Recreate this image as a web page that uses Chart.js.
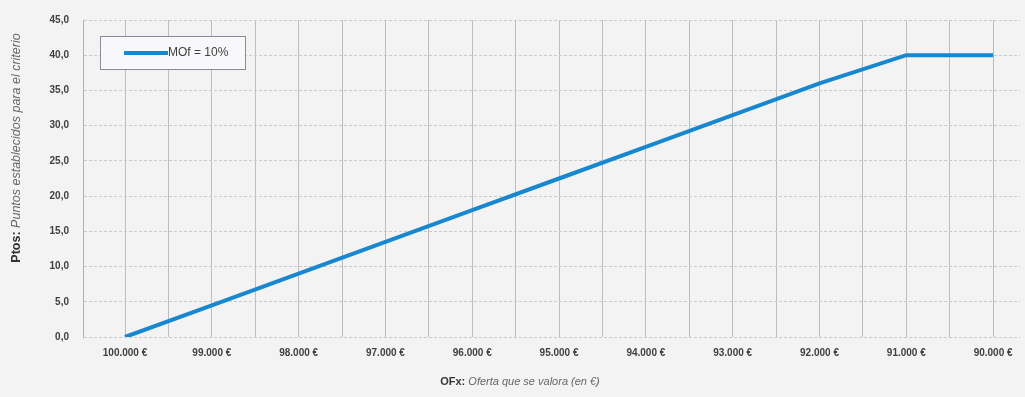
<!DOCTYPE html>
<html>
<head>
<meta charset="utf-8">
<script src="https://cdn.jsdelivr.net/npm/chart.js@4/dist/chart.umd.min.js"></script>
<style>
  html, body { margin: 0; padding: 0; background: #f3f3f3; }
  #wrap { width: 1025px; height: 397px; }
</style>
</head>
<body>
<div id="wrap"><canvas id="myChart"></canvas></div>
<script>
// ofertas (eje X) y puntos (eje Y)
const ofertas = [100000, 99000, 98000, 97000, 96000, 95000, 94000, 93000, 92000, 91000, 90000];
const puntos = [0, 4.5, 9, 13.5, 18, 22.5, 27, 31.5, 36, 40, 40];
const serieLabel = 'MOf = 10%';
const yTicks = [0, 5, 10, 15, 20, 25, 30, 35, 40, 45];

const font = "'Liberation Sans', Arial, sans-serif";

function euros(v) {
    return String(v).replace(/\B(?=(\d{3})+(?!\d))/g, '.') + ' €';
}

// leyenda y titulos de ejes dibujados a mano (mezclan negrita y cursiva)
const decor = {
    id: 'decor',
    afterDraw(chart) {
        const ctx = chart.ctx;
        ctx.save();
        // leyenda
        ctx.fillStyle = '#f8f8fb';
        ctx.strokeStyle = '#8a8aa0';
        ctx.lineWidth = 1;
        ctx.fillRect(100.5, 36.5, 145, 33);
        ctx.strokeRect(100.5, 36.5, 145, 33);
        ctx.strokeStyle = '#1788d0';
        ctx.lineWidth = 4;
        ctx.beginPath();
        ctx.moveTo(124, 53);
        ctx.lineTo(168, 53);
        ctx.stroke();
        ctx.fillStyle = '#404040';
        ctx.font = '12px ' + font;
        ctx.textBaseline = 'middle';
        ctx.fillText(serieLabel, 168, 53);

        // titulo eje X
        ctx.textBaseline = 'middle';
        ctx.font = 'bold 11px ' + font;
        const b1 = 'OFx:';
        const r1 = ' Oferta que se valora (en €)';
        const w1 = ctx.measureText(b1).width;
        ctx.font = 'italic 11px ' + font;
        const w2 = ctx.measureText(r1).width;
        let x0 = 520 - (w1 + w2) / 2;
        ctx.fillStyle = '#333';
        ctx.font = 'bold 11px ' + font;
        ctx.fillText(b1, x0, 382);
        ctx.fillStyle = '#666';
        ctx.font = 'italic 11px ' + font;
        ctx.fillText(r1, x0 + w1, 382);

        // titulo eje Y
        ctx.translate(17, 148);
        ctx.rotate(-Math.PI / 2);
        ctx.font = 'bold 12.5px ' + font;
        const b2 = 'Ptos:';
        const r2 = ' Puntos establecidos para el criterio';
        const w3 = ctx.measureText(b2).width;
        ctx.font = 'italic 12.5px ' + font;
        const w4 = ctx.measureText(r2).width;
        x0 = -(w3 + w4) / 2;
        ctx.fillStyle = '#333';
        ctx.font = 'bold 12.5px ' + font;
        ctx.fillText(b2, x0, 0);
        ctx.fillStyle = '#666';
        ctx.font = 'italic 12.5px ' + font;
        ctx.fillText(r2, x0 + w3, 0);
        ctx.restore();
    }
};

let myChart = document.getElementById('myChart').getContext('2d');

let puntosChart = new Chart(myChart, {
    type: 'line',
    data: {
        datasets: [{
            label: serieLabel,
            data: ofertas.map((o, i) => ({ x: o, y: puntos[i] })),
            borderColor: '#1788d0',
            borderWidth: 4,
            pointRadius: 0,
            tension: 0,
            fill: false
        }]
    },
    options: {
        responsive: true,
        maintainAspectRatio: false,
        animation: false,
        layout: { padding: { left: 0, top: 17, right: 5, bottom: 0 } },
        plugins: {
            legend: { display: false },
            tooltip: { enabled: false }
        },
        scales: {
            x: {
                type: 'linear',
                reverse: true,
                min: 89690,
                max: 100484,
                afterBuildTicks(scale) {
                    const t = [];
                    for (let v = 90000; v <= 100000; v += 500) t.push({ value: v });
                    scale.ticks = t;
                },
                afterFit(scale) { scale.height = 60; },
                grid: {
                    color: '#bdbdbd',
                    lineWidth: 1,
                    drawTicks: false
                },
                border: { display: false },
                ticks: {
                    autoSkip: false,
                    maxRotation: 0,
                    padding: 10,
                    color: '#404040',
                    font: { family: font, size: 10, weight: 'bold' },
                    callback: v => (v % 1000 === 0 ? euros(v) : '')
                }
            },
            y: {
                min: 0,
                max: 45,
                afterBuildTicks(scale) {
                    scale.ticks = yTicks.map(v => ({ value: v }));
                },
                afterFit(scale) { scale.width = 83; },
                grid: {
                    color: '#cacaca',
                    lineWidth: 1,
                    drawTicks: false
                },
                border: { display: true, color: '#b0b0b0', dash: [3, 2] },
                ticks: {
                    padding: 14,
                    color: '#404040',
                    font: { family: font, size: 10, weight: 'bold' },
                    callback: v => v.toFixed(1).replace('.', ',')
                }
            }
        }
    },
    plugins: [decor]
});
</script>
</body>
</html>
